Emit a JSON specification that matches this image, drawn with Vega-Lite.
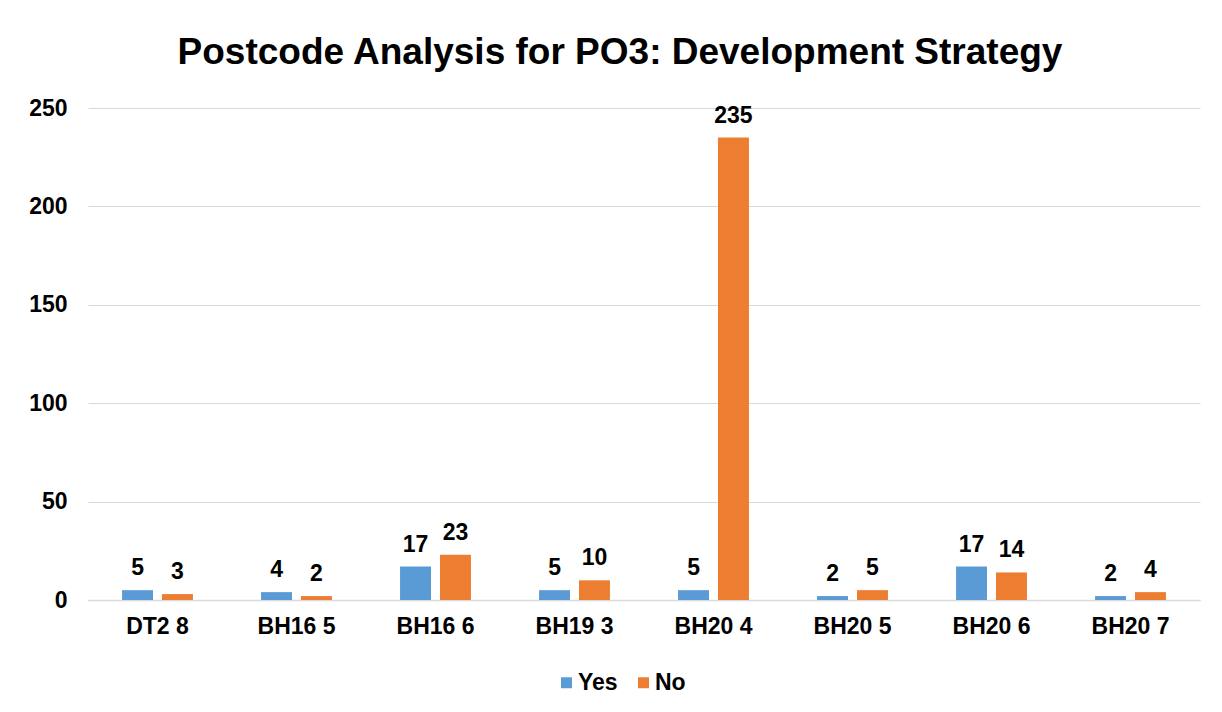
{
  "$schema": "https://vega.github.io/schema/vega-lite/v6.json",
  "autosize": "none",
  "width": 1112,
  "height": 492,
  "padding": {"left": 88, "top": 108, "right": 22, "bottom": 112},
  "background": "white",
  "config": {"view": {"stroke": null}},
  "title": {
    "text": "Postcode Analysis  for PO3: Development Strategy",
    "font": "Liberation Sans",
    "fontSize": 37,
    "fontWeight": "bold",
    "color": "#000000",
    "anchor": "middle",
    "baseline": "alphabetic",
    "dx": -24,
    "offset": -4
  },
  "data": {
    "values": [
      {"postcode": "DT2 8", "response": "Yes", "count": 5},
      {"postcode": "DT2 8", "response": "No", "count": 3},
      {"postcode": "BH16 5", "response": "Yes", "count": 4},
      {"postcode": "BH16 5", "response": "No", "count": 2},
      {"postcode": "BH16 6", "response": "Yes", "count": 17},
      {"postcode": "BH16 6", "response": "No", "count": 23},
      {"postcode": "BH19 3", "response": "Yes", "count": 5},
      {"postcode": "BH19 3", "response": "No", "count": 10},
      {"postcode": "BH20 4", "response": "Yes", "count": 5},
      {"postcode": "BH20 4", "response": "No", "count": 235},
      {"postcode": "BH20 5", "response": "Yes", "count": 2},
      {"postcode": "BH20 5", "response": "No", "count": 5},
      {"postcode": "BH20 6", "response": "Yes", "count": 17},
      {"postcode": "BH20 6", "response": "No", "count": 14},
      {"postcode": "BH20 7", "response": "Yes", "count": 2},
      {"postcode": "BH20 7", "response": "No", "count": 4}
    ]
  },
  "encoding": {
    "x": {
      "field": "postcode",
      "type": "nominal",
      "sort": null,
      "scale": {"paddingInner": 0.49, "paddingOuter": 0.245},
      "axis": {
        "title": null,
        "labelAngle": 0,
        "labelFont": "Liberation Sans",
        "labelFontSize": 23,
        "labelFontWeight": "bold",
        "labelColor": "#000000",
        "labelPadding": 15,
        "ticks": false,
        "domainColor": "#D9D9D9",
        "domainWidth": 1.5,
        "grid": false
      }
    },
    "xOffset": {
      "field": "response",
      "type": "nominal",
      "sort": ["Yes", "No"],
      "scale": {"paddingInner": 0.225, "paddingOuter": 0}
    },
    "y": {
      "field": "count",
      "type": "quantitative",
      "scale": {"domain": [0, 250]},
      "axis": {
        "title": null,
        "values": [0, 50, 100, 150, 200, 250],
        "labelFont": "Liberation Sans",
        "labelFontSize": 23,
        "labelFontWeight": "bold",
        "labelColor": "#000000",
        "labelPadding": 21,
        "ticks": false,
        "domain": false,
        "gridColor": "#D9D9D9",
        "gridWidth": 1
      }
    }
  },
  "layer": [
    {
      "mark": {"type": "bar"},
      "encoding": {
        "color": {
          "field": "response",
          "type": "nominal",
          "sort": ["Yes", "No"],
          "scale": {"domain": ["Yes", "No"], "range": ["#5B9BD5", "#ED7D31"]},
          "legend": {
            "title": null,
            "orient": "none",
            "legendX": 467,
            "legendY": 563,
            "direction": "horizontal",
            "symbolType": "square",
            "symbolSize": 121,
            "symbolStrokeWidth": 0,
            "labelFont": "Liberation Sans",
            "labelFontSize": 23,
            "labelFontWeight": "bold",
            "labelColor": "#000000",
            "labelOffset": 0,
            "columnPadding": 14
          }
        }
      }
    },
    {
      "mark": {
        "type": "text",
        "font": "Liberation Sans",
        "fontSize": 23,
        "fontWeight": "bold",
        "color": "#000000",
        "baseline": "alphabetic",
        "dy": -15
      },
      "encoding": {
        "text": {"field": "count", "type": "quantitative"}
      }
    }
  ]
}
